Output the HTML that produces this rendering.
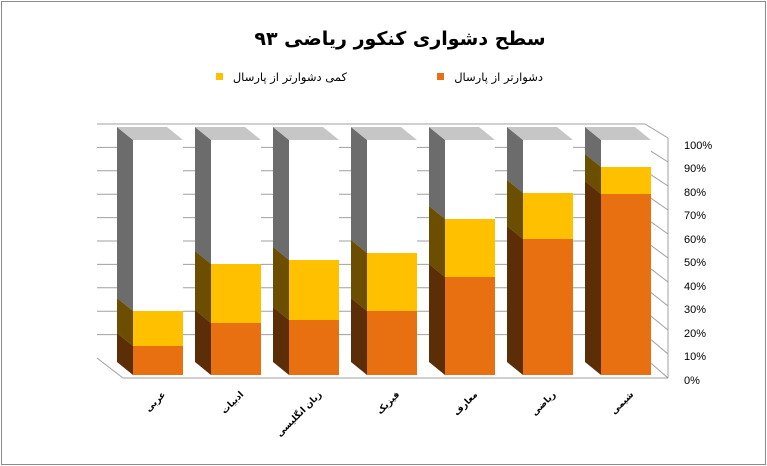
<!DOCTYPE html>
<html><head><meta charset="utf-8"><style>
html,body{margin:0;padding:0;background:#fff}
svg{display:block}
text{font-family:"Liberation Sans","DejaVu Sans",sans-serif}
.fa{font-family:"DejaVu Sans","Noto Sans CJK SC",sans-serif}
</style></head><body>
<svg id="s" width="767" height="466" viewBox="0 0 767 466" xmlns="http://www.w3.org/2000/svg">
<rect x="1.5" y="1.5" width="764" height="463" fill="#fff" stroke="#8a8a8a"/>
<g id="grid" stroke="#a0a0a0" stroke-width="1" fill="none">
<line x1="97" y1="124" x2="645" y2="124"/>
<line x1="645" y1="124" x2="668" y2="138"/>
<line x1="668" y1="138" x2="668" y2="378"/>
<polyline points="97,358 123,378 668,378"/>
<line x1="645" y1="358" x2="668" y2="378"/>
</g>
<g id="bars"></g>
<text x="400" y="45" text-anchor="middle" font-size="19" font-weight="bold" class="fa" direction="rtl">سطح دشواری کنکور ریاضی ۹۳</text>
<rect x="437" y="73" width="7" height="7" fill="#e87010"/>
<text x="543" y="81" text-anchor="end" font-size="11.5" class="fa">دشوارتر از پارسال</text>
<rect x="216" y="73" width="7" height="7" fill="#ffc000"/>
<text x="347" y="81" text-anchor="end" font-size="11.5" class="fa">کمی دشوارتر از پارسال</text>
<g font-size="11" fill="#000">
<text x="684" y="149">100%</text><text x="684" y="172">90%</text><text x="684" y="196">80%</text>
<text x="684" y="219">70%</text><text x="684" y="243">60%</text><text x="684" y="266">50%</text>
<text x="684" y="290">40%</text><text x="684" y="313">30%</text><text x="684" y="337">20%</text>
<text x="684" y="360">10%</text><text x="684" y="384">0%</text>
</g>
<g font-size="9" font-weight="bold" class="fa" text-anchor="end">
<text transform="translate(166,395) rotate(-45)">عربی</text>
<text transform="translate(244,395) rotate(-45)">ادبیات</text>
<text transform="translate(322,395) rotate(-45)">زبان انگلیسی</text>
<text transform="translate(400,395) rotate(-45)">فیزیک</text>
<text transform="translate(478,395) rotate(-45)">معارف</text>
<text transform="translate(556,395) rotate(-45)">ریاضی</text>
<text transform="translate(634,395) rotate(-45)">شیمی</text>
</g>
</svg>
<script>
var g=document.getElementById('bars'),ns='http://www.w3.org/2000/svg';
function P(pts,f){var p=document.createElementNS(ns,'polygon');p.setAttribute('points',pts);p.setAttribute('fill',f);g.appendChild(p);}
function L(x1,y1,x2,y2){var l=document.createElementNS(ns,'line');l.setAttribute('x1',x1);l.setAttribute('y1',y1);l.setAttribute('x2',x2);l.setAttribute('y2',y2);l.setAttribute('stroke','#a0a0a0');g.appendChild(l);}
for(var i=1;i<10;i++){var yb=358-i*23.4;L(97,yb,645,yb);var yf=378-i*24;L(645,yb,668,yf);}
var xs=[133,211,289,367,445,523,601];
var d=[[346,311],[323,264],[320,260],[311,253],[277,219],[239,193],[194,167]];
var B=375,T=140,dx=16,dy=13,w=50;
for(var k=0;k<7;k++){var x=xs[k],o=d[k][0],y=d[k][1];
 function side(a,b,c){P((x-dx)+','+(a-dy)+' '+x+','+a+' '+x+','+b+' '+(x-dx)+','+(b-dy),c);}
 side(T,y,'#6c6c6c');side(y,o,'#6b4e00');side(o,B,'#5c2e08');
 P((x-dx)+','+(T-dy)+' '+(x+w-dx)+','+(T-dy)+' '+(x+w)+','+T+' '+x+','+T,'#c6c6c6');
 P(x+','+T+' '+(x+w)+','+T+' '+(x+w)+','+y+' '+x+','+y,'#ffffff');
 P(x+','+y+' '+(x+w)+','+y+' '+(x+w)+','+o+' '+x+','+o,'#ffc000');
 P(x+','+o+' '+(x+w)+','+o+' '+(x+w)+','+B+' '+x+','+B,'#e87010');
}
</script>
</body></html>
